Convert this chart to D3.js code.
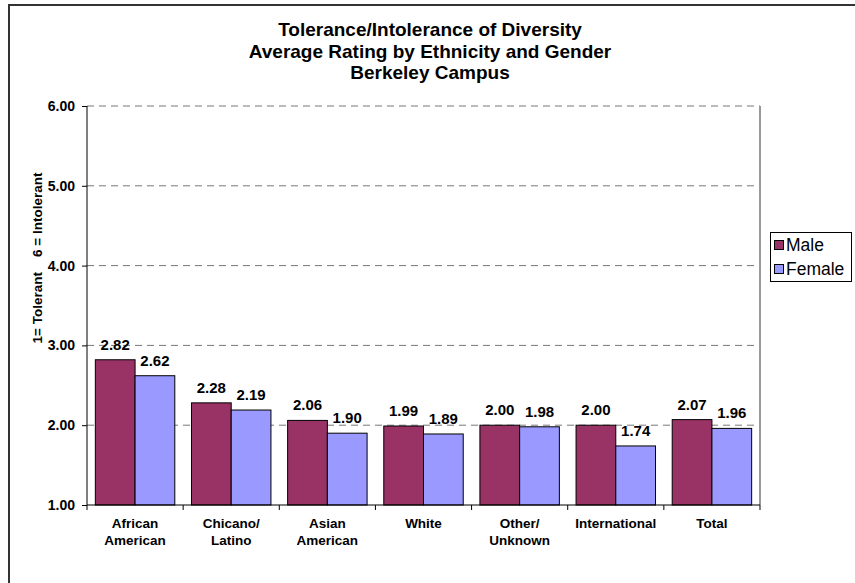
<!DOCTYPE html>
<html><head><meta charset="utf-8">
<script src="https://cdn.jsdelivr.net/npm/d3@7"></script>
<style>
html,body{margin:0;padding:0;background:#fff;}
svg{display:block;font-family:"Liberation Sans",Arial,sans-serif;}
</style></head>
<body>
<svg id="chart" width="855" height="583"></svg>
<script>
const categories = [["African","American"],["Chicano/","Latino"],["Asian","American"],["White"],["Other/","Unknown"],["International"],["Total"]];
const seriesNames = ["Male","Female"];
const maleValues = [2.82,2.28,2.06,1.99,2.00,2.00,2.07];
const femaleValues = [2.62,2.19,1.90,1.89,1.98,1.74,1.96];
const yTicks = [1,2,3,4,5,6];
const titleLines = ["Tolerance/Intolerance of Diversity","Average Rating by Ethnicity and Gender","Berkeley Campus"];
const yTitle = "1= Tolerant    6 = Intolerant";
const colors = ["#993366","#9999FF"];

(function(){
const svg = d3.select("#chart");
// outer chart border (extends past the right/bottom edge)
svg.append("rect").attr("x",9).attr("y",5).attr("width",900).attr("height",700)
  .attr("fill","none").attr("stroke","#333").attr("stroke-width",2);

const pL=87, pR=760, pT=106, pB=505;
const idx = categories.map((d,i)=>i);
const x0 = d3.scaleBand().domain(idx).range([pL,pR]).paddingInner(0).paddingOuter(0);
const x1 = d3.scaleBand().domain([0,1]).range([0,x0.bandwidth()]).paddingInner(0).paddingOuter(0.21);
const y = d3.scaleLinear().domain([1,6]).range([pB,pT]);

// gridlines
svg.append("g").selectAll("line").data(yTicks.filter(t=>t>1)).join("line")
  .attr("x1",pL).attr("x2",pR).attr("y1",d=>y(d)).attr("y2",d=>y(d))
  .attr("stroke","#777").attr("stroke-width",1).attr("stroke-dasharray","7,5");
// plot area right border
svg.append("line").attr("x1",pR).attr("x2",pR).attr("y1",pT).attr("y2",pB)
  .attr("stroke","#999").attr("stroke-width",2);

// bars
const data = idx.map(i=>[maleValues[i],femaleValues[i]]);
const groups = svg.append("g").selectAll("g").data(data).join("g")
  .attr("transform",(d,i)=>`translate(${x0(i)},0)`);
groups.selectAll("rect").data(d=>d).join("rect")
  .attr("x",(d,j)=>x1(j)).attr("width",x1.bandwidth())
  .attr("y",d=>y(d)).attr("height",d=>y(1)-y(d))
  .attr("fill",(d,j)=>colors[j]).attr("stroke","#000").attr("stroke-width",1);
groups.selectAll("text").data(d=>d).join("text")
  .attr("x",(d,j)=>x1(j)+x1.bandwidth()/2).attr("y",d=>y(d)-10)
  .attr("text-anchor","middle").attr("font-size","15px").attr("font-weight","bold")
  .text(d=>d.toFixed(2));

// y axis
const yAxis = svg.append("g").attr("transform",`translate(${pL},0)`)
  .call(d3.axisLeft(y).tickValues(yTicks).tickFormat(d3.format(".2f")).tickSize(5).tickPadding(7));
yAxis.select(".domain").attr("stroke","#000").attr("d",`M0,${pT}V${pB}`);
yAxis.selectAll("text").attr("font-size","14px").attr("font-weight","bold").attr("font-family","Liberation Sans, Arial, sans-serif").attr("fill","#000");

// x axis
const xAxis = svg.append("g").attr("transform",`translate(0,${pB})`);
xAxis.append("line").attr("x1",pL).attr("x2",pR).attr("stroke","#000");
xAxis.selectAll("line.tk").data(idx.concat([idx.length])).join("line").attr("class","tk")
  .attr("x1",i=>i<idx.length?x0(i):pR).attr("x2",i=>i<idx.length?x0(i):pR)
  .attr("y1",0).attr("y2",5).attr("stroke","#000");
const cl = xAxis.selectAll("text").data(categories).join("text")
  .attr("text-anchor","middle").attr("font-size","13.5px").attr("font-weight","bold")
  .attr("transform",(d,i)=>`translate(${x0(i)+x0.bandwidth()/2},23)`);
cl.selectAll("tspan").data(d=>d).join("tspan").attr("x",0).attr("dy",(d,k)=>k===0?0:17).text(d=>d);

// title
svg.append("g").selectAll("text").data(titleLines).join("text")
  .attr("x",430).attr("y",(d,i)=>36+i*21.5).attr("text-anchor","middle")
  .attr("font-size","19px").attr("font-weight","bold").text(d=>d);

// y title
svg.append("text").attr("transform","translate(42,258) rotate(-90)")
  .attr("text-anchor","middle").attr("font-size","13.5px").attr("font-weight","bold")
  .style("white-space","pre").text(yTitle);

// legend
const lg = svg.append("g");
lg.append("rect").attr("x",770.5).attr("y",232.5).attr("width",81).attr("height",49)
  .attr("fill","#fff").attr("stroke","#000");
seriesNames.forEach((n,i)=>{
  lg.append("rect").attr("x",774.5).attr("y",240.5+i*24).attr("width",9).attr("height",9)
    .attr("fill",colors[i]).attr("stroke","#000");
  lg.append("text").attr("x",786).attr("y",251+i*24).attr("font-size","17.5px").text(n);
});
})();
</script>
</body></html>
